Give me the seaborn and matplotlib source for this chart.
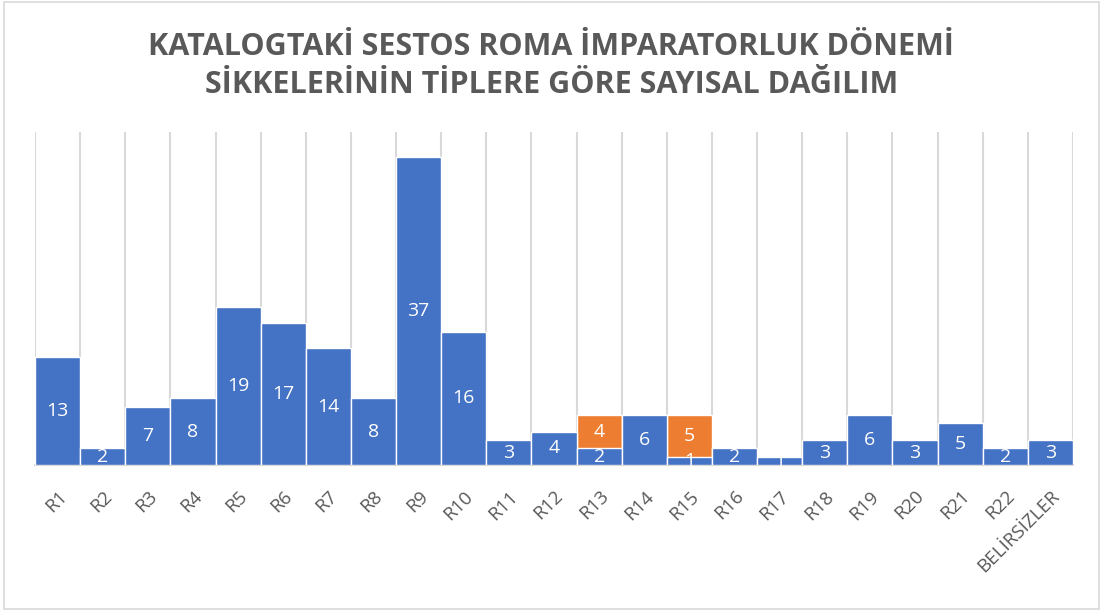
import matplotlib
matplotlib.use('Agg')
import matplotlib.pyplot as plt
import seaborn as sns
import pandas as pd
from matplotlib.patches import Rectangle

# veriler
categories = ["R1", "R2", "R3", "R4", "R5", "R6", "R7", "R8", "R9", "R10", "R11", "R12",
              "R13", "R14", "R15", "R16", "R17", "R18", "R19", "R20", "R21", "R22", "BELİRSİZLER"]
blue_values = [13, 2, 7, 8, 19, 17, 14, 8, 37, 16, 3, 4, 2, 6, 1, 2, 1, 3, 6, 3, 5, 2, 3]
orange_values = [0, 0, 0, 0, 0, 0, 0, 0, 0, 0, 0, 0, 4, 0, 5, 0, 0, 0, 0, 0, 0, 0, 0]

title_lines = ["KATALOGTAKİ SESTOS ROMA İMPARATORLUK DÖNEMİ",
               "SİKKELERİNİN TİPLERE GÖRE SAYISAL DAĞILIM"]

BLUE = "#4472C4"
ORANGE = "#ED7D31"
GRAY = "#595959"
GRID = "#D9D9D9"

df = pd.DataFrame({"cat": categories, "blue": blue_values, "orange": orange_values})
df["total"] = df["blue"] + df["orange"]

sns.set_theme(style="white")
plt.rcParams['font.family'] = ['Open Sans', 'DejaVu Sans']

fig = plt.figure(figsize=(11.03, 6.11), dpi=100)
ax = fig.add_axes([35 / 1103, 146 / 611, 1038 / 1103, 333 / 611])

# turuncu: toplam yükseklik, mavi üstüne çizilir (yığılmış görünüm)
sns.barplot(data=df, x="cat", y="total", color=ORANGE, saturation=1, width=1,
            edgecolor="white", linewidth=1, ax=ax, zorder=2)
sns.barplot(data=df, x="cat", y="blue", color=BLUE, saturation=1, width=1,
            edgecolor="white", linewidth=1, ax=ax, zorder=3)

blue_container = ax.containers[1]
ax.bar_label(blue_container, labels=[str(v) for v in blue_values], label_type="center",
             color="white", fontsize=14, zorder=5)
for i, (b, o) in enumerate(zip(blue_values, orange_values)):
    if o > 0:
        ax.text(i, b + o / 2, str(o), ha="center", va="center", color="white",
                fontsize=14, zorder=5)

ax.set_ylim(0, 40)
ax.set_xlim(-0.5, len(categories) - 0.5)
ax.set_yticks([])
ax.set_xlabel("")
ax.set_ylabel("")

# kategori sınırlarında dikey ızgara
ax.set_xticks([i - 0.5 for i in range(len(categories) + 1)], minor=True)
ax.grid(which="minor", axis="x", color=GRID, linewidth=1.5, zorder=0)
ax.tick_params(which="both", length=0)
ax.set_xticks(range(len(categories)))
ax.set_xticklabels(categories, rotation=45, ha="right", rotation_mode="anchor",
                   color=GRAY, fontsize=13.5)
ax.tick_params(axis="x", pad=16)

for s in ["top", "right", "left"]:
    ax.spines[s].set_visible(False)
ax.spines["bottom"].set_color(GRID)
ax.spines["bottom"].set_linewidth(1.5)

fig.text(0.5, 1 - 47 / 611, title_lines[0], ha="center", va="center", fontsize=22,
         fontweight="bold", color=GRAY)
fig.text(0.5, 1 - 85 / 611, title_lines[1], ha="center", va="center", fontsize=22,
         fontweight="bold", color=GRAY)

# grafik çerçevesi
fig.patches.append(Rectangle((0.004, 0.003), 0.992, 0.994, transform=fig.transFigure,
                             fill=False, edgecolor=GRID, linewidth=1.2))

plt.savefig("out.png", dpi=100)
